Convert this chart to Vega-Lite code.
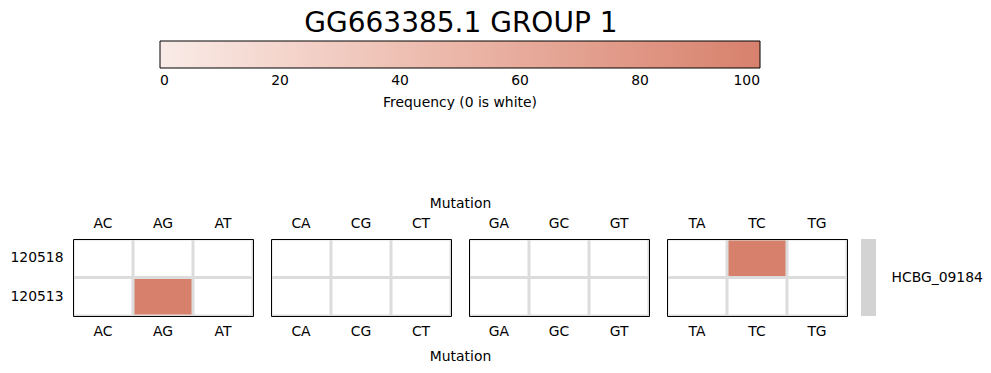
{
  "$schema": "https://vega.github.io/schema/vega-lite/v6.json",
  "background": "white",
  "padding": {"left": 9, "top": 10, "right": 5, "bottom": 5},
  "title": {"text": "GG663385.1 GROUP 1", "fontSize": 28, "fontWeight": "normal", "anchor": "middle", "frame": "bounds", "dx": -35, "color": "black", "offset": 3},
  "datasets": {
    "cells": [
      {"group": "A", "mutation": "AC", "sample": "120518", "freq": 0},
      {"group": "A", "mutation": "AG", "sample": "120518", "freq": 0},
      {"group": "A", "mutation": "AT", "sample": "120518", "freq": 0},
      {"group": "A", "mutation": "AC", "sample": "120513", "freq": 0},
      {"group": "A", "mutation": "AG", "sample": "120513", "freq": 100},
      {"group": "A", "mutation": "AT", "sample": "120513", "freq": 0},
      {"group": "C", "mutation": "CA", "sample": "120518", "freq": 0},
      {"group": "C", "mutation": "CG", "sample": "120518", "freq": 0},
      {"group": "C", "mutation": "CT", "sample": "120518", "freq": 0},
      {"group": "C", "mutation": "CA", "sample": "120513", "freq": 0},
      {"group": "C", "mutation": "CG", "sample": "120513", "freq": 0},
      {"group": "C", "mutation": "CT", "sample": "120513", "freq": 0},
      {"group": "G", "mutation": "GA", "sample": "120518", "freq": 0},
      {"group": "G", "mutation": "GC", "sample": "120518", "freq": 0},
      {"group": "G", "mutation": "GT", "sample": "120518", "freq": 0},
      {"group": "G", "mutation": "GA", "sample": "120513", "freq": 0},
      {"group": "G", "mutation": "GC", "sample": "120513", "freq": 0},
      {"group": "G", "mutation": "GT", "sample": "120513", "freq": 0},
      {"group": "T", "mutation": "TA", "sample": "120518", "freq": 0},
      {"group": "T", "mutation": "TC", "sample": "120518", "freq": 100},
      {"group": "T", "mutation": "TG", "sample": "120518", "freq": 0},
      {"group": "T", "mutation": "TA", "sample": "120513", "freq": 0},
      {"group": "T", "mutation": "TC", "sample": "120513", "freq": 0},
      {"group": "T", "mutation": "TG", "sample": "120513", "freq": 0}
    ],
    "gene": [{"gene": "HCBG_09184"}]
  },
  "hconcat": [
    {
      "hconcat": [
        {
          "width": 180, "height": 77,
          "data": {"name": "cells"},
          "transform": [{"filter": "datum.group == 'A'"}],
          "layer": [
            {
              "mark": {"type": "rect"},
              "encoding": {
                "x": {"field": "mutation", "type": "nominal", "scale": {"paddingInner": 0.05, "paddingOuter": 0.025}, "axis": {"orient": "top", "title": null, "labelPadding": 9}},
                "y": {"field": "sample", "type": "nominal", "sort": ["120518", "120513"], "scale": {"paddingInner": 0.078, "paddingOuter": 0.039}, "axis": {"title": null, "labelPadding": 10}},
                "color": {"condition": {"test": "datum.freq == 0", "value": "white"}, "field": "freq", "type": "quantitative", "scale": {"domain": [0, 100], "range": ["#f9ebe7", "#d7816d"]}, "legend": {"values": [0, 20, 40, 60, 80, 100], "title": "Frequency (0 is white)", "labelOffset": 6, "labelPadding": 6}}
              }
            },
            {
              "mark": {"type": "rect", "opacity": 0},
              "encoding": {
                "x": {"field": "mutation", "type": "nominal", "axis": {"orient": "bottom", "title": null, "labelPadding": 8}},
                "y": {"field": "sample", "type": "nominal", "sort": ["120518", "120513"]}
              }
            }
          ],
          "resolve": {"axis": {"x": "independent"}}
        },
        {
          "width": 180, "height": 77,
          "data": {"name": "cells"},
          "transform": [{"filter": "datum.group == 'C'"}],
          "layer": [
            {
              "mark": {"type": "rect"},
              "encoding": {
                "x": {"field": "mutation", "type": "nominal", "scale": {"paddingInner": 0.05, "paddingOuter": 0.025}, "axis": {"orient": "top", "title": "Mutation", "titleX": 189, "titleAlign": "center", "titlePadding": 6, "labelPadding": 9}},
                "y": {"field": "sample", "type": "nominal", "sort": ["120518", "120513"], "scale": {"paddingInner": 0.078, "paddingOuter": 0.039}, "axis": null},
                "color": {"condition": {"test": "datum.freq == 0", "value": "white"}, "field": "freq", "type": "quantitative", "scale": {"domain": [0, 100], "range": ["#f9ebe7", "#d7816d"]}, "legend": {"values": [0, 20, 40, 60, 80, 100], "title": "Frequency (0 is white)", "labelOffset": 6, "labelPadding": 6}}
              }
            },
            {
              "mark": {"type": "rect", "opacity": 0},
              "encoding": {
                "x": {"field": "mutation", "type": "nominal", "axis": {"orient": "bottom", "title": "Mutation", "titleX": 189, "titleAlign": "center", "titlePadding": 12, "labelPadding": 8}},
                "y": {"field": "sample", "type": "nominal", "sort": ["120518", "120513"], "axis": null}
              }
            }
          ],
          "resolve": {"axis": {"x": "independent"}}
        },
        {
          "width": 180, "height": 77,
          "data": {"name": "cells"},
          "transform": [{"filter": "datum.group == 'G'"}],
          "layer": [
            {
              "mark": {"type": "rect"},
              "encoding": {
                "x": {"field": "mutation", "type": "nominal", "scale": {"paddingInner": 0.05, "paddingOuter": 0.025}, "axis": {"orient": "top", "title": null, "labelPadding": 9}},
                "y": {"field": "sample", "type": "nominal", "sort": ["120518", "120513"], "scale": {"paddingInner": 0.078, "paddingOuter": 0.039}, "axis": null},
                "color": {"condition": {"test": "datum.freq == 0", "value": "white"}, "field": "freq", "type": "quantitative", "scale": {"domain": [0, 100], "range": ["#f9ebe7", "#d7816d"]}, "legend": {"values": [0, 20, 40, 60, 80, 100], "title": "Frequency (0 is white)", "labelOffset": 6, "labelPadding": 6}}
              }
            },
            {
              "mark": {"type": "rect", "opacity": 0},
              "encoding": {
                "x": {"field": "mutation", "type": "nominal", "axis": {"orient": "bottom", "title": null, "labelPadding": 8}},
                "y": {"field": "sample", "type": "nominal", "sort": ["120518", "120513"], "axis": null}
              }
            }
          ],
          "resolve": {"axis": {"x": "independent"}}
        },
        {
          "width": 180, "height": 77,
          "data": {"name": "cells"},
          "transform": [{"filter": "datum.group == 'T'"}],
          "layer": [
            {
              "mark": {"type": "rect"},
              "encoding": {
                "x": {"field": "mutation", "type": "nominal", "scale": {"paddingInner": 0.05, "paddingOuter": 0.025}, "axis": {"orient": "top", "title": null, "labelPadding": 9}},
                "y": {"field": "sample", "type": "nominal", "sort": ["120518", "120513"], "scale": {"paddingInner": 0.078, "paddingOuter": 0.039}, "axis": null},
                "color": {"condition": {"test": "datum.freq == 0", "value": "white"}, "field": "freq", "type": "quantitative", "scale": {"domain": [0, 100], "range": ["#f9ebe7", "#d7816d"]}, "legend": {"values": [0, 20, 40, 60, 80, 100], "title": "Frequency (0 is white)", "labelOffset": 6, "labelPadding": 6}}
              }
            },
            {
              "mark": {"type": "rect", "opacity": 0},
              "encoding": {
                "x": {"field": "mutation", "type": "nominal", "axis": {"orient": "bottom", "title": null, "labelPadding": 8}},
                "y": {"field": "sample", "type": "nominal", "sort": ["120518", "120513"], "axis": null}
              }
            }
          ],
          "resolve": {"axis": {"x": "independent"}}
        }
      ],
      "spacing": 18,
      "bounds": "flush",
      "resolve": {"scale": {"color": "shared"}, "legend": {"color": "shared"}}
    },
    {
      "width": 15, "height": 77,
      "data": {"name": "gene"},
      "view": {"stroke": null, "fill": null},
      "mark": {"type": "rect", "color": "#d3d3d3"},
      "encoding": {
        "y": {"field": "gene", "type": "nominal", "scale": {"paddingInner": 0, "paddingOuter": 0}, "axis": {"orient": "right", "title": null, "labelPadding": 15}}
      }
    }
  ],
  "spacing": 13,
  "resolve": {"scale": {"color": "shared"}, "legend": {"color": "shared"}},
  "config": {
    "font": "DejaVu Sans",
    "view": {"stroke": "black", "strokeWidth": 1, "fill": "#dcdcdc"},
    "axis": {"labelFontSize": 13.9, "titleFontSize": 13.9, "titleFontWeight": "normal", "labelColor": "black", "titleColor": "black", "ticks": false, "domain": false, "labelAngle": 0, "grid": false},
    "legend": {"orient": "none", "legendX": 87, "legendY": -198, "direction": "horizontal", "gradientLength": 600, "gradientThickness": 27, "gradientStrokeColor": "black", "gradientStrokeWidth": 1, "titleOrient": "bottom", "titleAnchor": "middle", "titleFontSize": 13.9, "titleFontWeight": "normal", "labelFontSize": 13.9, "labelOverlap": false, "labelAlign": "center", "titlePadding": 8, "labelColor": "black", "titleColor": "black"}
  }
}
